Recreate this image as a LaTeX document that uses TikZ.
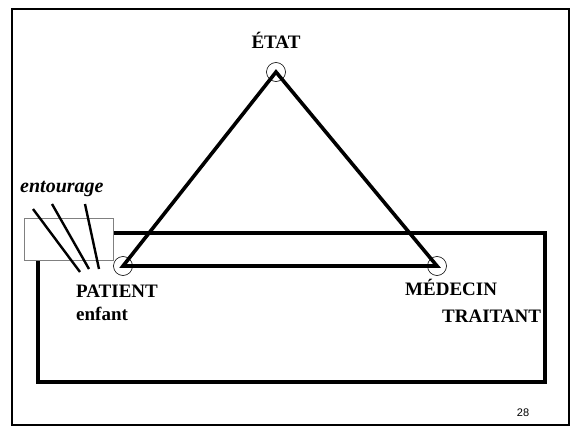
\documentclass[tikz,border=0pt]{standalone}
\usepackage{fontspec}
\setmainfont{Liberation Serif}
\newfontfamily\pagenumfont{Liberation Sans}
\begin{document}
\begin{tikzpicture}[x=1pt,y=-1pt,
  frameline/.style={line width=2pt},
  boxline/.style={line width=3.2pt},
  triline/.style={line width=3.6pt, line join=miter},
  vertex/.style={circle, draw, line width=0.6pt, minimum size=19pt, inner sep=0pt},
  entline/.style={line width=2.4pt},
  lbl/.style={font=\fontsize{19}{21}\selectfont\bfseries, inner sep=0pt, anchor=base west}]
  \useasboundingbox (0,0) rectangle (571,428);
  % page frame
  \draw[frameline] (11.5,9) rectangle (569,425);
  % large enclosing rectangle
  \draw[boxline] (38,233) rectangle (545,382);
  % surroundings box, hiding the corner of the rectangle
  \node[draw=gray, line width=0.7pt, fill=white, minimum width=89pt, minimum height=42pt,
        inner sep=0pt, anchor=north west] (box) at (24,218) {};
  % triangle vertices
  \coordinate (etat) at (276,72);
  \coordinate (patient) at (123,266);
  \coordinate (medecin) at (437,266);
  \draw[triline] (patient) -- (etat) -- (medecin) -- cycle;
  \node[vertex] (cE) at (etat) {};
  \node[vertex] (cP) at (patient) {};
  \node[vertex] (cM) at (medecin) {};
  % influence strokes
  \coordinate (a1) at (33,209); \coordinate (b1) at (80,272);
  \coordinate (a2) at (52,204); \coordinate (b2) at (89,269);
  \coordinate (a3) at (85,204); \coordinate (b3) at (99,269);
  \draw[entline] (a1) -- (b1);
  \draw[entline] (a2) -- (b2);
  \draw[entline] (a3) -- (b3);
  % labels
  \node[font=\fontsize{20}{22}\selectfont\bfseries\itshape, inner sep=0pt, anchor=base west] (ent) at (20,192) {entourage};
  \node[lbl, anchor=base] (tE) at (276,49) {ÉTAT};
  \node[lbl] (tP) at (76,297) {PATIENT};
  \node[lbl] (tP2) at (76,320) {enfant};
  \node[lbl] (tM) at (405,295) {MÉDECIN};
  \node[lbl] (tM2) at (442,322) {TRAITANT};
  \node[font=\pagenumfont\fontsize{11}{13}\selectfont, inner sep=0pt, anchor=base] (pg) at (523,416) {28};
\end{tikzpicture}
\end{document}
